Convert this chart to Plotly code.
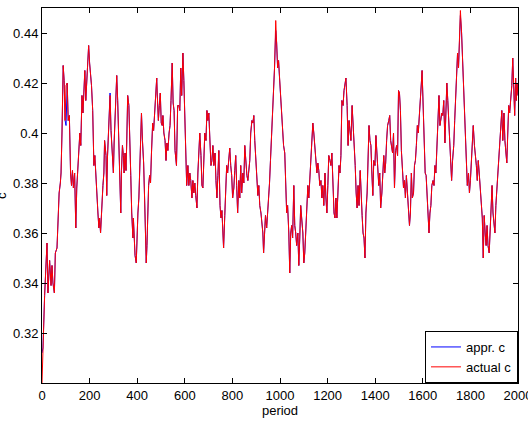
import plotly.graph_objects as go

period = [0,4,11,21,25,32,38,42,46,52,56,63,68,72,77,80,84,89,93,97,101,106,110,115,120,124,128,132,137,142,146,151,155,159,163,168,172,176,180,184,189,193,196,200,204,208,213,215,218,222,227,231,235,239,242,246,249,252,256,260,263,269,272,275,279,283,286,290,293,296,300,303,307,311,314,318,322,327,331,334,338,342,345,349,353,356,360,365,369,373,377,382,384,387,391,396,398,403,407,411,415,418,422,427,431,435,438,441,444,448,452,456,460,465,469,473,477,482,484,489,493,497,501,505,508,512,517,521,525,529,534,538,542,547,551,555,
          559,565,570,575,579,583,587,592,596,600,604,608,613,617,621,625,630,634,638,642,646,651,655,659,663,668,672,676,680,684,689,693,697,701,706,710,714,718,722,727,731,735,739,743,748,752,756,760,763,768,772,776,780,784,789,793,797,801,806,810,814,818,822,827,831,835,839,844,848,852,856,861,865,869,873,877,882,886,890,894,898,903,907,911,915,920,924,928,931,935,939,944,948,952,956,960,965,969,973,977,982,986,990,994,998,1003,1007,1011,1015,1020,1024,1028,1032,1037,1041,1045,1049,1053,1058,1062,1066,1070,1075,1079,1083,1087,1091,1096,1100,1104,1108,1113,1117,1121,1125,1129,1134,1138,1142,1146,1151,1155,1159,1163,1167,1172,1176,1180,1184,1189,1193,1197,1201,1205,1210,1214,1218,1222,1227,1231,1235,1239,1243,1248,1252,1256,1260,1265,1269,1273,1277,1282,1286,1290,1294,1298,
          1303,1308,1312,1316,1320,1324,1328,1332,1337,1341,1345,1349,1353,1357,1361,1366,1370,1374,1378,1382,1386,1390,1394,1399,1403,1407,1411,1415,1419,1423,1428,1432,1436,1440,1444,1448,1452,1457,1461,1465,1469,1473,1477,1481,1486,1490,1494,1498,1502,1506,1510,1514,1519,1523,1527,1531,1535,1540,1544,1548,1552,1556,1561,1565,1569,1573,1577,1581,1585,1590,1594,1597,1601,1605,1610,1614,1618,1622,1626,1630,1634,1638,1643,1647,1651,1655,1659,1663,1668,1672,1676,1680,1684,1688,1693,1697,1701,1705,1709,1713,1717,1721,1725,1730,1734,1738,1742,1746,1750,1754,1758,1763,1767,1771,1775,1779,1783,1787,1792,1796,1800,1804,1808,1812,1817,1821,1825,1829,1833,1837,1841,1846,1850,1854,1858,1862,1866,1870,1874,1879,1883,1887,1891,1895,1899,1903,1907,1912,1916,1920,1924,1928,1932,1936,1941,1945,1949,1953,1957,1961,1965,1970,1974,1978,1982,1986,1990,1993,1996,2000]

actual_c = [0.300,0.314,0.335,0.356,0.336,0.349,0.339,0.347,0.340,0.336,0.352,0.354,0.366,0.376,0.380,0.384,0.400,0.427,0.421,0.405,0.419,0.420,0.405,0.407,0.384,0.379,0.385,0.378,0.384,0.362,0.378,0.388,0.395,0.400,0.395,0.415,0.408,0.417,0.425,0.413,0.425,0.429,0.435,0.428,0.424,0.419,0.409,0.393,0.387,0.391,0.380,0.374,0.368,0.362,0.366,0.360,0.367,0.371,0.379,0.384,0.397,0.391,0.375,0.390,0.402,0.407,0.415,0.401,0.396,0.387,0.384,0.396,0.405,0.415,0.423,0.413,0.397,0.383,0.368,0.385,0.395,0.391,0.384,0.392,0.385,0.396,0.415,0.411,0.400,0.383,0.368,0.358,0.366,0.360,0.351,0.348,0.358,0.368,0.374,0.384,0.400,0.408,0.397,0.388,0.374,0.360,0.348,0.355,0.368,0.379,0.383,0.380,0.392,0.404,0.401,0.409,0.413,0.422,0.416,0.405,0.411,0.416,0.404,0.403,0.407,0.400,0.397,0.389,0.396,0.393,0.400,0.403,0.413,0.428,0.412,0.409,
            0.393,0.387,0.411,0.411,0.409,0.426,0.415,0.432,0.421,0.404,0.384,0.379,0.387,0.379,0.384,0.381,0.374,0.381,0.376,0.380,0.375,0.370,0.384,0.392,0.400,0.391,0.379,0.378,0.392,0.400,0.397,0.409,0.405,0.408,0.396,0.387,0.389,0.395,0.387,0.392,0.381,0.374,0.383,0.393,0.371,0.366,0.369,0.360,0.354,0.367,0.379,0.387,0.384,0.388,0.394,0.387,0.383,0.374,0.378,0.385,0.391,0.379,0.368,0.381,0.374,0.387,0.376,0.384,0.380,0.395,0.389,0.383,0.381,0.384,0.389,0.400,0.405,0.404,0.407,0.397,0.389,0.384,0.375,0.379,0.371,0.368,0.363,0.360,0.352,0.360,0.367,0.362,0.367,0.374,0.380,0.389,0.400,0.403,0.413,0.426,0.445,0.436,0.426,0.429,0.422,0.413,0.407,0.400,0.395,0.392,0.381,0.368,0.371,0.360,0.344,0.360,0.363,0.358,0.379,0.363,0.360,0.355,0.360,0.347,0.358,0.371,0.366,0.360,0.348,0.352,0.360,0.371,0.379,0.374,0.381,0.387,0.397,0.404,0.400,0.395,0.392,0.384,0.388,0.385,0.379,0.381,0.374,0.379,0.371,0.384,0.374,0.368,0.379,0.391,0.389,0.387,0.392,0.379,0.368,0.366,0.374,0.366,0.379,0.387,0.384,0.391,0.413,0.411,0.417,0.419,0.422,0.411,0.395,0.405,0.400,0.397,
            0.411,0.403,0.395,0.387,0.376,0.370,0.379,0.371,0.385,0.371,0.367,0.360,0.358,0.350,0.368,0.376,0.392,0.403,0.397,0.395,0.384,0.375,0.389,0.387,0.399,0.392,0.384,0.379,0.384,0.370,0.376,0.387,0.391,0.384,0.388,0.397,0.403,0.405,0.407,0.397,0.393,0.392,0.400,0.378,0.393,0.395,0.391,0.417,0.416,0.409,0.393,0.384,0.378,0.381,0.374,0.383,0.376,0.366,0.363,0.368,0.384,0.374,0.376,0.387,0.389,0.395,0.403,0.400,0.405,0.412,0.420,0.425,0.413,0.400,0.384,0.383,0.374,0.370,0.360,0.368,0.371,0.379,0.381,0.379,0.387,0.384,0.393,0.400,0.415,0.403,0.405,0.408,0.407,0.413,0.396,0.409,0.420,0.413,0.405,0.397,0.392,0.381,0.389,0.395,0.405,0.416,0.422,0.432,0.426,0.440,0.449,0.440,0.429,0.419,0.409,0.395,0.387,0.379,0.384,0.376,0.381,0.389,0.397,0.403,0.395,0.392,0.387,0.381,0.389,0.384,0.379,0.374,0.366,0.350,0.367,0.360,0.355,0.363,0.355,0.352,0.360,0.368,0.379,0.368,0.363,0.360,0.371,0.379,0.381,0.389,0.395,0.403,0.409,0.397,0.408,0.397,0.392,0.388,0.400,0.411,0.408,0.413,0.419,0.430,0.419,0.407,0.422,0.413,0.420,0.415]

# approximation: same readings except where the blue line is visible apart from the red one
appr_override_period = [0, 4, 101, 286, 982, 1758]
appr_override_value = [0.312, 0.314, 0.403, 0.416, 0.441, 0.447]

appr_c = list(actual_c)
for p, v in zip(appr_override_period, appr_override_value):
    appr_c[period.index(p)] = v

y_ticks = [0.32, 0.34, 0.36, 0.38, 0.40, 0.42, 0.44]
y_tick_text = ["0.32", "0.34", "0.36", "0.38", "0.4", "0.42", "0.44"]
x_ticks = [0, 200, 400, 600, 800, 1000, 1200, 1400, 1600, 1800, 2000]

font = dict(family="Liberation Sans, Arial, sans-serif", size=13, color="black")

fig = go.Figure()
fig.add_trace(go.Scatter(x=period, y=appr_c, mode="lines", name="appr. c",
                         line=dict(color="rgb(0,0,255)", width=1)))
fig.add_trace(go.Scatter(x=period, y=actual_c, mode="lines", name="actual c",
                         line=dict(color="rgb(255,0,0)", width=1)))

axis_common = dict(showline=True, linecolor="black", linewidth=1, mirror="ticks",
                   ticks="inside", ticklen=5, tickcolor="black", showgrid=False,
                   zeroline=False, tickfont=font, automargin=False,
                   ticklabeloverflow="allow")

fig.update_layout(
    width=528, height=421,
    margin=dict(l=42, r=10, t=8, b=38),
    paper_bgcolor="white", plot_bgcolor="white",
    font=font,
    xaxis=dict(range=[0, 2000], tickvals=x_ticks,
               title=dict(text="period", font=font, standoff=4), **axis_common),
    yaxis=dict(range=[0.30, 0.45], tickvals=y_ticks, ticktext=y_tick_text,
               **axis_common),
    legend=dict(x=1, y=0, xanchor="right", yanchor="bottom",
                bgcolor="white", bordercolor="black", borderwidth=1,
                font=font, tracegroupgap=0),
    showlegend=True,
    annotations=[dict(text="c", textangle=-90, xref="paper", yref="paper",
                      x=-0.085, y=0.5, xanchor="center", yanchor="middle",
                      showarrow=False, font=font)],
)

fig.write_html("out.html")
